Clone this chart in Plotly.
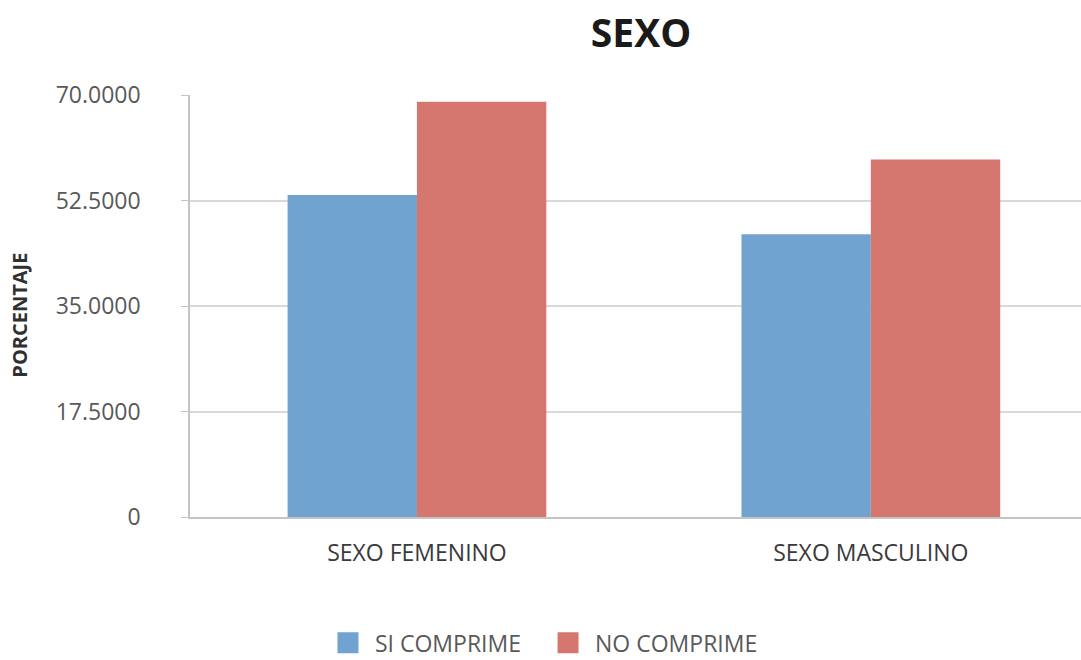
import plotly.graph_objects as go

categories = ["SEXO FEMENINO", "SEXO MASCULINO"]
si_comprime = [53.4, 46.9]
no_comprime = [68.9, 59.3]
series_names = ["SI COMPRIME", "NO COMPRIME"]
series_colors = ["#70a3d0", "#d5776f"]
tick_values = [0, 17.5, 35, 52.5, 70]
tick_labels = ["0", "17.5000", "35.0000", "52.5000", "70.0000"]

font_family = "Open Sans, Lato, sans-serif"
legend_ids = ["legend", "legend2"]

fig = go.Figure()
for name, values, color in zip(series_names, [si_comprime, no_comprime], series_colors):
    fig.add_trace(go.Bar(name=name, x=categories, y=values, legendgroup=name,
                         showlegend=False,
                         marker=dict(color=color, line=dict(width=0))))
# legend keys drawn as large square markers, one legend box per series
for name, color, lid in zip(series_names, series_colors, legend_ids):
    fig.add_trace(go.Scatter(name=name, x=[None], y=[None], mode="markers",
                             legendgroup=name, legend=lid, hoverinfo="skip",
                             marker=dict(symbol="square", size=16, color=color,
                                         line=dict(width=5, color=color))))

legend_style = dict(orientation="h", xanchor="left", y=-0.298, yanchor="middle",
                    font=dict(size=23, color="#595959", family=font_family),
                    itemwidth=44, itemsizing="trace", bgcolor="rgba(0,0,0,0)")

fig.update_layout(
    width=1081, height=660,
    margin=dict(l=190, r=0, t=95, b=143, autoexpand=False),
    paper_bgcolor="white", plot_bgcolor="white",
    barmode="group", bargap=0.43, bargroupgap=0,
    font=dict(family=font_family, color="#595959", size=14),
    title=dict(text="<b>SEXO</b>", x=0.593, xanchor="center", y=0.95, yanchor="middle",
               font=dict(size=39, color="#1a1a1a", family=font_family)),
    legend=dict(x=0.147, **legend_style),
    legend2=dict(x=0.394, **legend_style),
    showlegend=True,
    annotations=[dict(
        text="<b>PORCENTAJE</b>", textangle=-90,
        xref="paper", yref="paper", x=-0.191, y=0.479,
        xanchor="center", yanchor="middle", showarrow=False,
        font=dict(size=20, color="#303030", family=font_family),
    )],
)
fig.update_xaxes(
    range=[-0.5, 1.463], showgrid=False,
    showline=True, linecolor="#c4c4c4", linewidth=1.5,
    ticks="", ticklabelstandoff=15,
    tickfont=dict(size=23, color="#3a3a3a"),
)
fig.update_yaxes(
    range=[0, 70], tickvals=tick_values, ticktext=tick_labels,
    showgrid=True, gridcolor="#d9d9d9", gridwidth=2,
    showline=True, linecolor="#c4c4c4", linewidth=1.5,
    ticks="outside", ticklen=7, tickcolor="#c4c4c4",
    ticklabelstandoff=36,
    tickfont=dict(size=23, color="#595959"),
    zeroline=False,
)

fig.write_html("out.html")
